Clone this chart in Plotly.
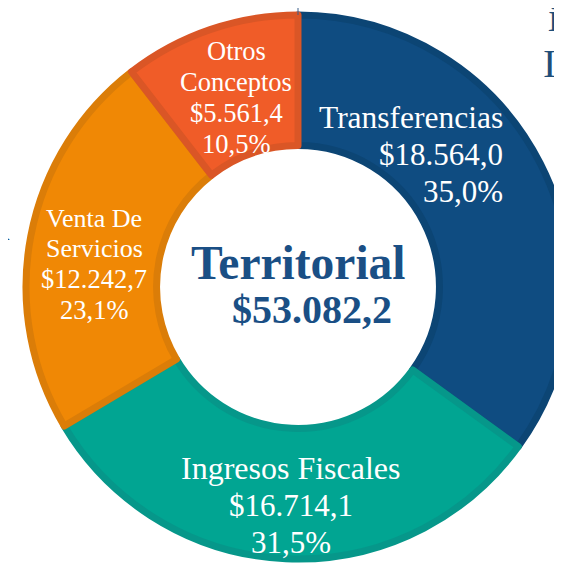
import plotly.graph_objects as go

# ---- data ----
categories = ["Transferencias", "Ingresos Fiscales", "Venta De Servicios", "Otros Conceptos"]
label_lines = [["Transferencias"], ["Ingresos Fiscales"], ["Venta De", "Servicios"], ["Otros", "Conceptos"]]
values = [18564.0, 16714.1, 12242.7, 5561.4]
center_title = "Territorial"
fill_colors = ["#0F4C81", "#01A592", "#F08805", "#F05C28"]
line_colors = ["#0C4574", "#06978A", "#DB7D08", "#DA5626"]

# figure is a bit wider than the window; the page's 8px body margin offsets it
W, H = 580, 569
OFF = 8


def px(x):  # window pixel -> paper
    return (x - OFF) / W


def py(y):
    return 1 - (y - OFF) / H


def fmt_money(v):
    s = f"{v:,.1f}"
    return "$" + s.replace(",", "X").replace(".", ",").replace("X", ".")


def fmt_pct(p):
    return f"{p:.1f}".replace(".", ",") + "%"


total = sum(values)
pcts = [v / total * 100 for v in values]

# pie geometry (window pixels)
cx, cy, r = 298, 287, 272
fig = go.Figure(
    go.Pie(
        labels=categories,
        values=values,
        sort=False,
        direction="clockwise",
        rotation=0,
        hole=0.52,
        textinfo="none",
        hoverinfo="label+value+percent",
        marker=dict(colors=fill_colors, line=dict(color=line_colors, width=7)),
        domain=dict(x=[px(cx - r), px(cx + r)], y=[py(cy + r), py(cy - r)]),
        showlegend=False,
    )
)

annotations = []
serif = "Liberation Serif, Times New Roman, serif"
# label placement: (x, y of first line, line spacing, font sizes, xanchor)
placements = [
    (505, 118, 36.5, [31.5, 31, 31], "right"),
    (291, 468, 37, [32, 31, 31], "center"),
    (94, 218, 30.5, [26, 26, 26.5, 26.5], "center"),
    (236, 51, 31, [26.5, 26.5, 26.5, 26.5], "center"),
]
for i, (x, y0, dy, sizes, xa) in enumerate(placements):
    lines = label_lines[i] + [fmt_money(values[i]), fmt_pct(pcts[i])]
    for k, t in enumerate(lines):
        annotations.append(
            dict(
                x=px(x), y=py(y0 + k * dy), xref="paper", yref="paper",
                text=t, showarrow=False, xanchor=xa, yanchor="middle",
                font=dict(family=serif, size=sizes[k], color="white"),
            )
        )

# center text
annotations.append(dict(x=px(298), y=py(263), xref="paper", yref="paper", text="<b>" + center_title + "</b>",
                        showarrow=False, xanchor="center", yanchor="middle",
                        font=dict(family=serif, size=47.5, color="#1A4F85")))
annotations.append(dict(x=px(312), y=py(310), xref="paper", yref="paper", text="<b>" + fmt_money(total) + "</b>",
                        showarrow=False, xanchor="center", yanchor="middle",
                        font=dict(family=serif, size=40, color="#1A4F85")))

# clipped text fragments from neighbouring content
frag_font = dict(family=serif, size=40, color="#1F4E79")
annotations.append(dict(x=px(546), y=py(18), xref="paper", yref="paper", text="i", showarrow=False,
                        xanchor="left", yanchor="middle", font=frag_font))
annotations.append(dict(x=px(541), y=py(64), xref="paper", yref="paper", text="In", showarrow=False,
                        xanchor="left", yanchor="middle", font=frag_font))
annotations.append(dict(x=px(12), y=py(226), xref="paper", yref="paper", text="a", showarrow=False,
                        xanchor="right", yanchor="middle", font=frag_font))

fig.update_layout(
    width=W, height=H,
    margin=dict(l=0, r=0, t=0, b=0),
    paper_bgcolor="white", plot_bgcolor="white",
    annotations=annotations,
    shapes=[dict(type="line", xref="paper", yref="paper", x0=px(cx), x1=px(cx), y0=py(cy - r), y1=1,
                 line=dict(color="#3A5F8A", width=1))],
)

fig.write_html("out.html")
